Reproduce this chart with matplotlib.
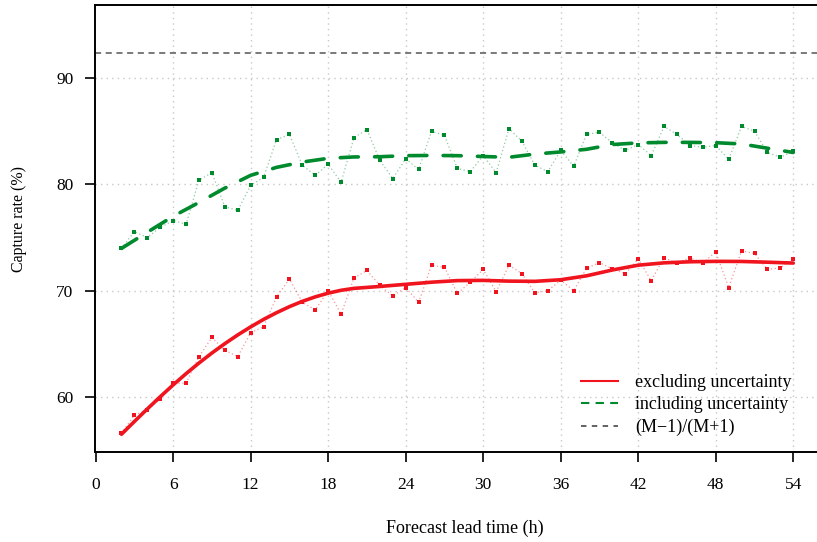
import matplotlib
matplotlib.use("Agg")
import matplotlib.pyplot as plt
from matplotlib.lines import Line2D

plt.rcParams['font.family'] = ['Liberation Serif', 'DejaVu Serif']

# lead times (h) of the hourly verification points
lead = list(range(2, 55))

# capture rate per lead time, excluding / including uncertainty (%)
excl = [56.6, 58.3, 58.8, 59.8, 61.3, 61.3, 63.8, 65.6, 64.4, 63.8,
        66.05, 66.6, 69.4, 71.1, 68.9, 68.2, 70.0, 67.8, 71.2, 71.9,
        70.5, 69.5, 70.3, 68.9, 72.4, 72.2, 69.75, 70.8, 72.0, 69.9,
        72.4, 71.6, 69.8, 70.0, 71.0, 70.0, 72.1, 72.65, 72.05, 71.6,
        73.0, 70.95, 73.1, 72.6, 73.1, 72.6, 73.65, 70.3, 73.75, 73.5,
        72.0, 72.15, 73.0]
incl = [74.0, 75.55, 75.0, 75.95, 76.6, 76.25, 80.4, 81.1, 77.9, 77.55,
        79.9, 80.65, 84.2, 84.7, 81.8, 80.85, 81.9, 80.2, 84.4, 85.15,
        82.25, 80.55, 82.4, 81.4, 85.0, 84.6, 81.5, 81.2, 82.7, 81.1,
        85.25, 84.05, 81.8, 81.2, 83.2, 81.7, 84.7, 84.9, 83.9, 83.2,
        83.75, 82.7, 85.45, 84.7, 83.65, 83.5, 83.65, 82.35, 85.45, 85.0,
        83.0, 82.55, 83.1]

# smoothed curves (hourly up to 20 h, then every 2 h)
excl_smooth_lead = list(range(2, 21)) + list(range(22, 55, 2))
excl_smooth = [56.5, 57.7, 58.88, 60.03, 61.14, 62.2, 63.2, 64.14, 65.02, 65.84,
               66.6, 67.3, 67.93, 68.5, 69.0, 69.42, 69.77, 70.04, 70.22,
               70.4, 70.6, 70.8, 70.95, 70.97, 70.9, 70.88, 71.03, 71.4, 71.95,
               72.4, 72.62, 72.72, 72.76, 72.75, 72.68, 72.6]
incl_smooth_lead = list(range(2, 55, 2))
incl_smooth = [73.98, 75.5, 77.0, 78.3, 79.65, 80.85, 81.6, 82.1, 82.45, 82.58,
               82.6, 82.7, 82.72, 82.7, 82.62, 82.55, 82.85, 83.05, 83.3, 83.75,
               83.9, 83.95, 83.95, 83.92, 83.8, 83.4, 83.0]

ref_level = 92.31  # (M-1)/(M+1), M = 25

xticks = list(range(0, 55, 6))
yticks = [60, 70, 80, 90]

red = '#f0141e'
green = '#008a2e'

fig = plt.figure(figsize=(8.17, 5.42), dpi=100)
ax = fig.add_axes([95 / 817, 90 / 542, (835 - 95) / 817, (452 - 5) / 542])

ax.set_xlim(-0.05, (835 - 95) / 12.93)
ax.set_ylim(54.83, 96.87)

# grid
for x in xticks[1:]:
    ax.axvline(x, color='#c8c8c8', lw=1.0, ls=(0, (1, 3)), zorder=0)
for y in yticks:
    ax.axhline(y, color='#c8c8c8', lw=1.0, ls=(0, (1, 3)), zorder=0)

# raw points with thin dotted connections
ax.plot(lead, excl, color=red, lw=0.9, ls=(0, (1, 2)), alpha=0.45, zorder=2)
ax.plot(lead, excl, ls='none', marker='s', ms=3.5, color=red, mew=0, zorder=3)
ax.plot(lead, incl, color=green, lw=0.9, ls=(0, (1, 2)), alpha=0.45, zorder=2)
ax.plot(lead, incl, ls='none', marker='s', ms=3.5, color=green, mew=0, zorder=3)

# smoothed curves
ax.plot(excl_smooth_lead, excl_smooth, color=red, lw=2.6, solid_capstyle='round',
        solid_joinstyle='round', zorder=4)
gl, = ax.plot(incl_smooth_lead, incl_smooth, color=green, lw=2.6,
              dash_capstyle='round', zorder=4)
gl.set_dashes((5, 4.5))

ax.axhline(ref_level, color='#555555', lw=1.1, ls=(0, (4, 3)), zorder=1)

# axes styling
ax.spines['right'].set_visible(False)
for s in ['left', 'top', 'bottom']:
    ax.spines[s].set_linewidth(1.4)
ax.set_xticks(xticks)
ax.set_yticks(yticks)
ax.tick_params(axis='both', labelsize=12.5, width=1.2, length=7.5,
               direction='out')
ax.tick_params(axis='x', pad=10.5)
ax.tick_params(axis='y', pad=8)
ax.set_xlabel('Forecast lead time (h)', fontsize=13, labelpad=19)
ax.set_ylabel('Capture rate (%)', fontsize=11.5)
ax.yaxis.set_label_coords(-0.092, 0.522)

handles = [
    Line2D([], [], color=red, lw=1.5),
    Line2D([], [], color=green, lw=1.5, ls=(0, (4, 3))),
    Line2D([], [], color='#555555', lw=1.3, ls=(0, (3, 3))),
]
labels = ['excluding uncertainty', 'including uncertainty', '(M\u22121)/(M+1)']
ax.legend(handles, labels, loc='center left', bbox_to_anchor=(0.657, 0.105),
          frameon=False, fontsize=13, handlelength=2.05, handletextpad=0.95,
          labelspacing=0.3, borderpad=0, borderaxespad=0)

fig.savefig('out.png', dpi=100)
